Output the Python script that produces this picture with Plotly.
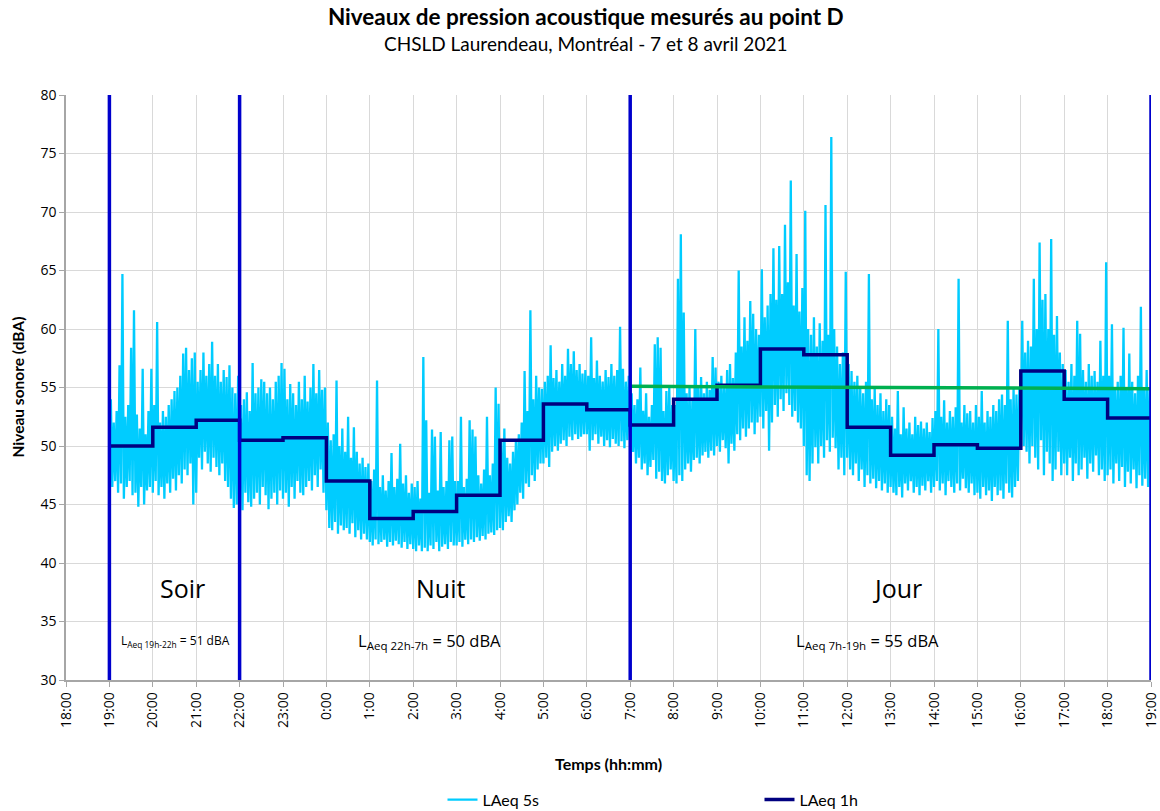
import pandas as pd
import plotly.graph_objects as go

# LAeq 5s readings, one list per clock hour (2-minute resolution)
laeq5s_19h = [47.5, 54.0, 46.5, 52.0, 47.0, 53.0, 46.0, 56.9, 46.8, 64.7, 45.5, 52.5, 46.5, 53.5, 47.0,
              58.4, 45.8, 61.6, 46.0, 52.7, 44.8, 51.5, 46.5, 56.6, 45.0, 51.0, 46.2, 53.0, 46.5, 56.6]
laeq5s_20h = [46.0, 53.5, 47.0, 60.6, 45.8, 52.0, 46.5, 53.0, 45.5, 52.5, 46.8, 53.5, 46.0, 54.0, 47.2,
              54.7, 46.2, 55.0, 47.5, 56.0, 46.8, 57.9, 48.0, 58.4, 47.5, 56.5, 48.5, 57.5, 45.0, 58.0]
laeq5s_21h = [46.0, 55.5, 49.0, 56.5, 48.0, 58.0, 49.5, 56.0, 48.5, 57.0, 47.8, 58.9, 49.0, 56.0, 48.2,
              57.0, 47.5, 55.5, 48.5, 56.5, 47.0, 55.9, 46.5, 56.9, 45.5, 55.0, 44.7, 54.5, 45.0, 56.0]
laeq5s_22h = [45.0, 53.5, 44.5, 54.0, 46.0, 54.6, 45.2, 53.0, 44.8, 57.1, 45.5, 54.5, 46.0, 55.0, 45.0,
              55.7, 46.5, 55.5, 45.8, 54.5, 44.6, 55.0, 45.5, 54.0, 46.0, 55.5, 45.0, 56.0, 46.2, 57.1]
laeq5s_23h = [45.5, 56.6, 46.0, 54.0, 44.8, 55.3, 46.5, 54.5, 45.5, 53.5, 47.0, 55.5, 46.0, 54.0, 45.8,
              56.0, 46.5, 53.8, 47.0, 55.0, 46.2, 57.0, 47.5, 54.5, 46.5, 56.5, 48.0, 54.8, 46.0, 55.0]
laeq5s_0h = [44.5, 52.0, 43.0, 50.5, 42.8, 51.0, 43.5, 55.6, 42.5, 50.0, 43.2, 51.5, 42.8, 49.5, 43.0,
             52.5, 42.5, 49.0, 43.4, 51.6, 42.2, 49.5, 42.8, 48.5, 42.0, 49.0, 42.5, 48.2, 42.0, 48.5]
laeq5s_1h = [41.8, 47.0, 41.5, 48.0, 42.0, 55.6, 41.6, 46.5, 41.8, 47.5, 42.0, 46.2, 41.4, 47.0, 41.8,
             49.4, 41.5, 46.5, 41.9, 47.2, 41.6, 50.2, 41.3, 46.8, 41.8, 47.5, 41.2, 46.0, 41.6, 46.8]
laeq5s_2h = [41.2, 46.5, 41.0, 47.0, 41.5, 45.5, 41.0, 57.6, 41.3, 52.2, 41.0, 46.0, 41.5, 51.4, 41.2,
             50.8, 41.8, 46.2, 41.0, 51.2, 41.4, 46.5, 41.6, 47.0, 41.2, 50.5, 41.8, 50.8, 41.5, 47.0]
laeq5s_3h = [41.5, 47.0, 41.8, 52.5, 41.4, 46.5, 42.0, 47.2, 41.6, 52.2, 42.0, 51.4, 41.8, 50.8, 42.2,
             47.5, 41.9, 46.8, 42.3, 48.0, 42.0, 52.5, 42.5, 47.5, 42.6, 48.5, 42.4, 55.0, 42.8, 53.6]
laeq5s_4h = [43.0, 50.5, 42.8, 51.5, 43.5, 49.0, 44.0, 48.5, 43.5, 49.5, 44.5, 50.5, 45.0, 51.0, 46.0,
             52.0, 45.5, 56.4, 46.8, 53.0, 46.5, 61.6, 47.5, 54.0, 47.0, 56.0, 48.0, 55.0, 48.5, 54.9]
laeq5s_5h = [48.5, 55.5, 49.0, 56.0, 48.2, 58.6, 49.5, 55.8, 50.0, 56.5, 49.6, 55.5, 50.2, 57.0, 50.5,
             56.0, 50.0, 58.3, 50.8, 57.0, 50.5, 58.1, 51.0, 56.5, 50.6, 57.0, 50.8, 56.2, 51.0, 56.5]
laeq5s_6h = [51.0, 56.0, 49.6, 59.3, 50.5, 55.8, 51.0, 57.3, 50.2, 56.0, 50.8, 55.5, 50.0, 56.5, 50.5,
             55.9, 49.9, 57.0, 50.6, 56.0, 50.2, 56.5, 50.0, 60.2, 50.4, 56.6, 49.8, 55.5, 50.5, 56.0]
laeq5s_7h = [50.5, 54.5, 49.5, 53.5, 48.5, 54.0, 49.0, 56.7, 48.0, 53.0, 48.5, 54.5, 47.5, 52.5, 48.2,
             53.5, 48.8, 58.7, 47.2, 59.3, 47.8, 58.4, 47.0, 53.0, 46.8, 54.7, 47.5, 55.0, 48.0, 53.5]
laeq5s_8h = [47.0, 53.5, 46.8, 64.3, 47.5, 68.1, 47.0, 61.4, 48.0, 54.5, 48.5, 55.0, 47.8, 54.0, 48.8,
             60.0, 49.0, 55.0, 48.5, 55.9, 49.2, 54.5, 49.5, 55.5, 49.0, 54.8, 49.6, 57.6, 49.2, 56.7]
laeq5s_9h = [50.0, 55.5, 49.5, 56.0, 50.5, 55.0, 49.8, 56.5, 48.5, 57.0, 50.2, 55.8, 49.6, 58.0, 51.0,
             65.0, 50.5, 58.5, 51.5, 61.0, 50.8, 59.0, 51.5, 62.4, 52.0, 61.3, 51.0, 60.0, 52.0, 59.5]
laeq5s_10h = [52.5, 65.1, 51.5, 61.0, 53.0, 62.0, 49.6, 63.0, 52.0, 66.9, 53.5, 62.5, 52.5, 67.1, 54.0,
              63.0, 53.0, 68.9, 54.5, 64.0, 53.5, 72.7, 52.5, 62.0, 53.0, 66.4, 52.0, 61.5, 51.5, 63.5]
laeq5s_11h = [50.0, 70.1, 47.5, 60.0, 47.0, 59.5, 48.5, 61.0, 49.9, 58.5, 48.5, 60.5, 50.0, 59.0, 49.0,
              70.6, 50.5, 59.5, 49.5, 76.4, 50.7, 60.0, 49.8, 58.5, 48.0, 57.0, 49.0, 58.0, 47.5, 64.9]
laeq5s_12h = [49.0, 57.0, 48.0, 56.4, 47.5, 55.5, 48.5, 56.0, 47.0, 55.0, 48.0, 54.5, 46.5, 55.5, 47.5,
              64.7, 46.8, 54.0, 47.2, 55.0, 46.4, 53.5, 47.0, 54.5, 46.2, 53.0, 46.8, 54.0, 46.0, 53.5]
laeq5s_13h = [46.5, 52.5, 46.0, 51.5, 45.8, 54.7, 46.5, 51.0, 45.6, 53.3, 46.8, 51.5, 46.2, 52.0, 47.0,
              51.0, 46.0, 52.5, 46.5, 51.8, 45.8, 52.1, 46.6, 51.5, 46.2, 52.0, 47.0, 51.2, 46.0, 52.4]
laeq5s_14h = [46.5, 53.0, 47.0, 60.0, 46.2, 52.5, 46.8, 53.9, 45.8, 52.0, 47.0, 53.0, 46.5, 52.5, 46.0,
              53.3, 46.8, 64.3, 46.2, 52.0, 47.2, 53.5, 46.4, 52.8, 46.0, 53.0, 46.8, 52.0, 45.8, 53.5]
laeq5s_15h = [46.0, 52.5, 45.5, 54.7, 46.5, 52.0, 45.8, 53.0, 46.2, 52.5, 45.3, 53.5, 46.5, 53.0, 45.8,
              54.0, 46.2, 54.4, 45.5, 53.5, 46.8, 60.7, 46.0, 54.0, 45.6, 55.0, 46.5, 54.4, 47.0, 55.0]
laeq5s_16h = [51.0, 60.7, 50.0, 58.0, 49.5, 59.0, 48.5, 58.5, 50.0, 64.3, 49.0, 60.0, 48.0, 67.4, 50.5,
              62.5, 47.5, 63.0, 49.5, 60.0, 48.5, 67.7, 47.0, 59.5, 48.0, 61.1, 49.5, 58.0, 47.5, 57.0]
laeq5s_17h = [48.5, 56.5, 47.5, 55.5, 49.0, 57.0, 47.0, 56.0, 48.5, 60.7, 47.5, 59.6, 48.0, 56.5, 49.0,
              55.5, 47.2, 57.0, 48.5, 56.0, 47.8, 56.4, 49.2, 55.5, 47.5, 59.0, 48.0, 56.0, 47.0, 65.7]
laeq5s_18h = [47.5, 56.0, 48.0, 60.4, 46.8, 55.0, 48.5, 55.5, 47.0, 56.0, 48.2, 60.1, 46.5, 55.0, 47.8,
              57.9, 46.8, 55.5, 48.0, 54.5, 46.4, 56.0, 47.5, 61.9, 46.6, 55.0, 47.2, 56.5, 46.5, 55.0]

# Hourly LAeq, 19:00 on April 7 through 18:00 on April 8
laeq1h = [50.0, 51.6, 52.2, 50.5, 50.7, 47.0, 43.8, 44.4, 45.8, 50.5, 53.6, 53.1,
          51.8, 54.0, 55.2, 58.3, 57.8, 51.6, 49.2, 50.1, 49.8, 56.4, 54.0, 52.4]

# Day-period LAeq (7h-19h)
laeq_jour = [55.1, 54.9]

# Period boundaries
period_bounds = ["2021-04-07 19:00", "2021-04-07 22:00", "2021-04-08 07:00", "2021-04-08 19:00"]

# Period labels
period_names = ["Soir", "Nuit", "Jour"]
period_name_times = ["2021-04-07 20:41", "2021-04-08 02:38", "2021-04-08 13:10"]
period_levels = [
    ("2021-04-07 20:31", "L<sub>Aeq 19h-22h</sub> = 51 dBA", 12),
    ("2021-04-08 02:22", "L<sub>Aeq 22h-7h</sub> = 50 dBA", 16.5),
    ("2021-04-08 12:28", "L<sub>Aeq 7h-19h</sub> = 55 dBA", 16.5),
]

hourly_5s = [laeq5s_19h, laeq5s_20h, laeq5s_21h, laeq5s_22h, laeq5s_23h, laeq5s_0h,
             laeq5s_1h, laeq5s_2h, laeq5s_3h, laeq5s_4h, laeq5s_5h, laeq5s_6h,
             laeq5s_7h, laeq5s_8h, laeq5s_9h, laeq5s_10h, laeq5s_11h, laeq5s_12h,
             laeq5s_13h, laeq5s_14h, laeq5s_15h, laeq5s_16h, laeq5s_17h, laeq5s_18h]
y5s = [v for hour in hourly_5s for v in hour]
t5s = pd.date_range("2021-04-07 19:00", periods=len(y5s), freq="2min")

t1h = list(pd.date_range("2021-04-07 19:00", periods=len(laeq1h) + 1, freq="h"))
y1h = laeq1h + [laeq1h[-1]]

FONT = "Open Sans"
TITLE_FONT = "Lato"

fig = go.Figure()

fig.add_trace(go.Scatter(
    x=t5s, y=y5s, mode="lines", name="LAeq 5s",
    line=dict(color="#00CCFF", width=2.3),
))
fig.add_trace(go.Scatter(
    x=t1h, y=y1h, mode="lines", name="LAeq 1h", line_shape="hv",
    line=dict(color="#000080", width=3.5),
))
fig.add_trace(go.Scatter(
    x=[period_bounds[2], period_bounds[3]], y=laeq_jour, mode="lines",
    showlegend=False, line=dict(color="#00B050", width=3.5),
))

vx, vy = [], []
for b in period_bounds:
    vx += [b, b, None]
    vy += [30, 80, None]
fig.add_trace(go.Scatter(
    x=vx, y=vy, mode="lines", showlegend=False,
    line=dict(color="#0000CC", width=3.5),
))

annotations = []
for name, t in zip(period_names, period_name_times):
    annotations.append(dict(x=t, y=37.9, xref="x", yref="y", text=name, showarrow=False,
                            font=dict(family=FONT, size=25, color="black")))
for t, txt, size in period_levels:
    annotations.append(dict(x=t, y=33.3, xref="x", yref="y", text=txt, showarrow=False,
                            font=dict(family=FONT, size=size, color="black")))

annotations.append(dict(x=0.479, y=1.0, xref="paper", yref="paper", yanchor="bottom",
                        yshift=38, showarrow=False,
                        text="CHSLD Laurendeau, Montréal - 7 et 8 avril 2021",
                        font=dict(family=TITLE_FONT, size=19, color="black")))
annotations.append(dict(x=0.5, y=0, xref="paper", yref="paper", yanchor="middle",
                        yshift=-83, showarrow=False, text="<b>Temps (hh:mm)</b>",
                        font=dict(family=TITLE_FONT, size=16, color="black")))
annotations.append(dict(x=0, y=0.5, xref="paper", yref="paper", xanchor="center",
                        xshift=-49, showarrow=False, textangle=-90,
                        text="<b>Niveau sonore (dBA)</b>",
                        font=dict(family=TITLE_FONT, size=15.5, color="black")))

fig.update_layout(
    width=1160, height=811,
    margin=dict(l=66, r=9, t=95, b=131, autoexpand=False),
    paper_bgcolor="white", plot_bgcolor="white",
    title=dict(text="<b>Niveaux de pression acoustique mesurés au point D</b>",
               x=0.505, xanchor="center", y=0.979, yanchor="middle",
               font=dict(family=TITLE_FONT, size=22.5, color="black")),
    showlegend=True,
    legend=dict(orientation="h", x=0.347, xanchor="left",
                yref="container", y=0.014, yanchor="middle",
                entrywidth=272, entrywidthmode="pixels",
                font=dict(family=TITLE_FONT, size=16, color="black"),
                bgcolor="rgba(0,0,0,0)"),
    annotations=annotations,
)

fig.update_xaxes(
    range=["2021-04-07 18:00", "2021-04-08 19:00"],
    dtick=3600000, tick0="2021-04-07 18:00", tickformat="%-H:%M",
    tickangle=-90, ticks="outside", ticklen=5, tickcolor="#A6A6A6",
    showline=True, linecolor="#A6A6A6", linewidth=1.5,
    showgrid=True, gridcolor="#D9D9D9", gridwidth=1,
    tickfont=dict(family=FONT, size=14, color="black"),
    zeroline=False, automargin=False,
)
fig.update_yaxes(
    range=[30, 80], dtick=5, ticks="outside", ticklen=5, tickcolor="#A6A6A6",
    showline=True, linecolor="#A6A6A6", linewidth=1.5,
    showgrid=True, gridcolor="#D9D9D9", gridwidth=1,
    tickfont=dict(family=FONT, size=14, color="black"),
    zeroline=False, automargin=False,
)

fig.write_html("out.html")
